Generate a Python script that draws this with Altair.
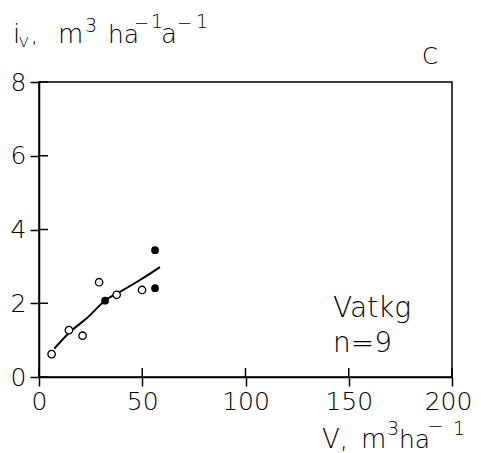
import altair as alt
import pandas as pd

# data
open_V = [6.1, 14.5, 21.1, 29.1, 37.6, 49.9]
open_iv = [0.62, 1.27, 1.12, 2.57, 2.23, 2.36]
filled_V = [32.0, 56.2, 56.2]
filled_iv = [2.07, 3.44, 2.41]
curve_V = [7.4, 15.0, 23.1, 32.8, 39.2, 48.9, 58.6]
curve_iv = [0.77, 1.22, 1.59, 2.11, 2.31, 2.63, 2.98]
x_ticks = [0, 50, 100, 150, 200]
y_ticks = [0, 2, 4, 6, 8]

FONT = "DejaVu Sans"
FW = 200
W, H = 413, 295
OX, OY = 39, 82  # plot origin on page

open_df = pd.DataFrame({"V": open_V, "iv": open_iv})
filled_df = pd.DataFrame({"V": filled_V, "iv": filled_iv})
curve_df = pd.DataFrame({"V": curve_V, "iv": curve_iv})
xt_df = pd.DataFrame({"v": x_ticks})
yt_df = pd.DataFrame({"v": y_ticks})
one = pd.DataFrame({"a": [0]})

xs = alt.Scale(domain=[0, 200], nice=False)
ys = alt.Scale(domain=[0, 8], nice=False)

common = dict(title=None, format="d", grid=False, domainColor="black", domainWidth=1.5,
              tickColor="black", tickWidth=1.5, tickSize=9, labelFont=FONT,
              labelFontSize=25, labelFontWeight=FW, labelColor="black", labelFlush=False)
xax = alt.Axis(values=x_ticks, labelPadding=3,
               labelOffset={"condition": {"test": "datum.value == 200", "value": -4}, "value": 0},
               **common)
yax = alt.Axis(values=y_ticks, labelPadding=4, **common)

curve = alt.Chart(curve_df).mark_line(color="black", strokeWidth=2, interpolate="monotone").encode(
    x=alt.X("V:Q", scale=xs, axis=xax),
    y=alt.Y("iv:Q", scale=ys, axis=yax),
)
opens = alt.Chart(open_df).mark_point(shape="circle", filled=True, fill="white", stroke="black",
                                       strokeWidth=1.3, size=55, opacity=1).encode(
    x=alt.X("V:Q", scale=xs), y=alt.Y("iv:Q", scale=ys))
fills = alt.Chart(filled_df).mark_point(shape="circle", filled=True, color="black", size=60, opacity=1).encode(
    x=alt.X("V:Q", scale=xs), y=alt.Y("iv:Q", scale=ys))

xin = alt.Chart(xt_df).mark_rule(color="black", strokeWidth=1.5).encode(
    x=alt.X("v:Q", scale=xs), y=alt.value(H - 9), y2=alt.value(H))
yin = alt.Chart(yt_df).mark_rule(color="black", strokeWidth=1.5).encode(
    y=alt.Y("v:Q", scale=ys), x=alt.value(0), x2=alt.value(9))


def txt(s, ax, ay, size, align="left"):
    return alt.Chart(one).mark_text(text=s, align=align, baseline="alphabetic", fontSize=size,
                                    font=FONT, fontWeight=FW, color="black").encode(
        x=alt.value(ax - OX), y=alt.value(ay - OY))


texts = [
    # y title: i_V, m^3 ha^-1 a^-1
    txt("i", 13, 43, 26), txt("V", 19, 47, 14), txt(",", 31, 43, 22),
    txt("m", 58, 43, 26), txt("3", 85, 32, 19),
    txt("ha", 108, 43, 25), txt("\u2212", 134, 29, 18), txt("1", 151, 28, 19),
    txt("a", 161, 43, 26), txt("\u2212", 177, 29, 18), txt("1", 196, 28, 19),
    # panel letter
    txt("C", 430, 64, 23, align="center"),
    # annotation
    txt("Vatkg", 333, 317, 28), txt("n=9", 333, 352, 28),
    # x title: V, m^3 ha^-1
    txt("V,", 322, 448, 26), txt("m", 361, 448, 26), txt("3", 387, 435, 19),
    txt("ha", 399, 448, 25), txt("\u2212", 427, 433, 20), txt("1", 453, 435, 19),
]

chart = alt.layer(curve, opens, fills, xin, yin, *texts).properties(
    width=W, height=H,
    background="white",
    autosize=alt.AutoSizeParams(type="none"),
    padding={"left": 31, "top": 74, "right": 21, "bottom": 76},
).configure_view(stroke="black", strokeWidth=1.5)

chart.save("out.html", embed_options={"renderer": "svg", "actions": False})
